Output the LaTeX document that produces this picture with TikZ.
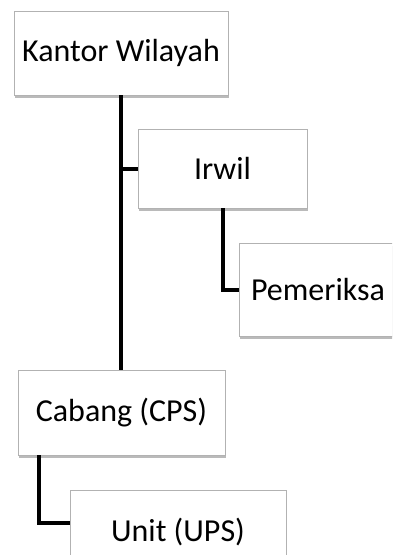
\documentclass[tikz,border=0pt]{standalone}
\usepackage{fontspec}
\setmainfont{Carlito}
\usetikzlibrary{shadows}
\begin{document}
\begin{tikzpicture}[x=1pt,y=1pt,
  orgbox/.style={draw=black!30, line width=0.8pt, fill=white, inner sep=0pt,
    font=\fontsize{32}{38}\selectfont,
    drop shadow={shadow xshift=1pt, shadow yshift=-2.5pt, opacity=0.45, fill=black!60}},
  conn/.style={line width=4pt, line join=miter}]
\useasboundingbox (0,0) rectangle (392,-555);
\clip (0,0) rectangle (392,-555);
\node[orgbox, minimum width=214pt, minimum height=84pt] (kw) at (121,-53) {Kantor Wilayah};
\node[orgbox, minimum width=169pt, minimum height=79pt] (ir) at (222.5,-168.5) {Irwil};
\node[orgbox, minimum width=158pt, minimum height=93pt] (pm) at (318,-289.5) {Pemeriksa};
\node[orgbox, minimum width=207pt, minimum height=85pt] (cb) at (121.5,-412.5) {Cabang (CPS)};
\node[orgbox, minimum width=216pt, minimum height=85pt] (un) at (178,-532.5) {Unit (UPS)};
\coordinate (irj) at (kw.south |- ir.west);
\coordinate (cbs) at (39,0);
\coordinate (unj) at (39,-523);
\coordinate (unw) at (un.west |- unj);
\coordinate (pmj) at (ir.south |- pm.west);
\draw[conn] (kw.south) -- (kw.south |- cb.north);
\draw[conn] (irj) -- (ir.west);
\draw[conn] (ir.south) -- (pmj) -- (pm.west);
\draw[conn] (cbs |- cb.south) -- (unj) -- (unw);
\end{tikzpicture}
\end{document}
